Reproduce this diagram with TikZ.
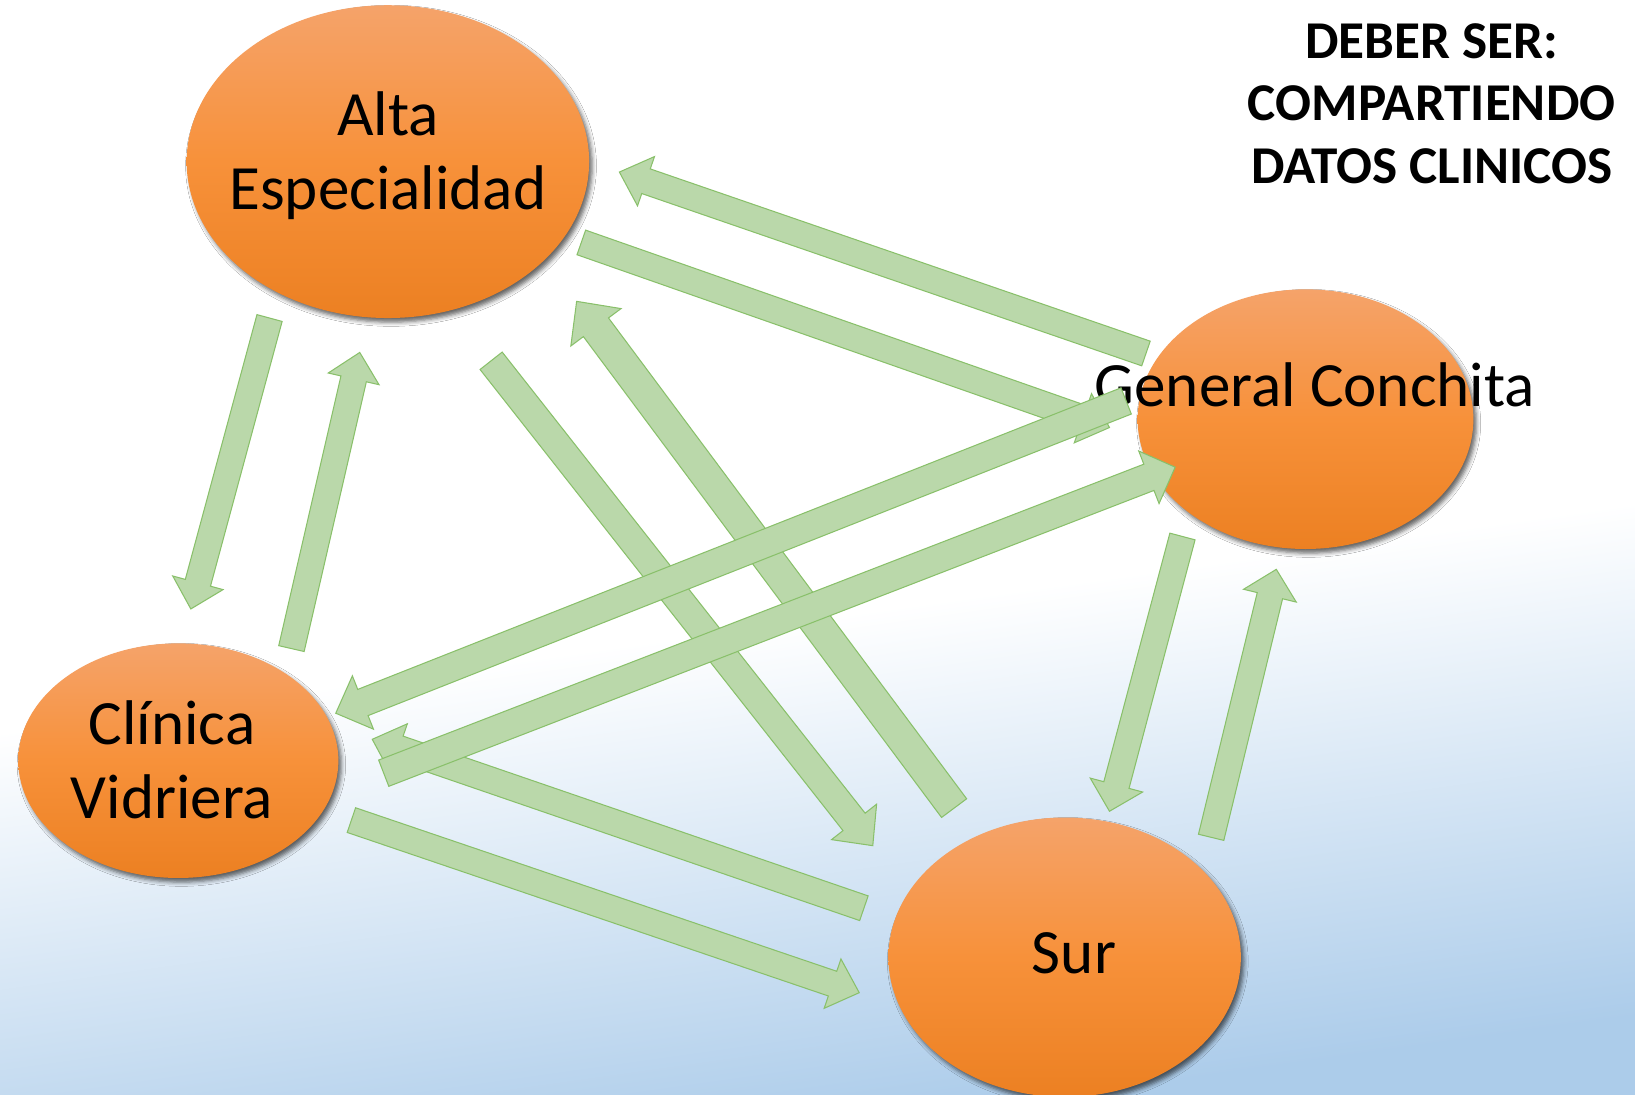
\documentclass[tikz,border=0pt]{standalone}
\usepackage{fontspec}
\setmainfont{Carlito}
\usetikzlibrary{calc,shapes.geometric,shadows.blur}

\definecolor{arrowfill}{RGB}{186,216,170}
\definecolor{arrowline}{RGB}{137,192,106}
\definecolor{orgtop}{RGB}{245,163,106}
\definecolor{orgmid}{RGB}{247,145,58}
\definecolor{orgbot}{RGB}{236,128,34}
\definecolor{bgblue}{RGB}{172,204,234}

\pgfdeclareverticalshading{bgshade}{100bp}{color(0bp)=(bgblue); color(25bp)=(bgblue); color(47bp)=(white); color(100bp)=(white)}

\tikzset{
  orb/.style={ellipse, draw=none, inner sep=0pt, top color=orgtop, bottom color=orgbot, middle color=orgmid,
    blur shadow={shadow xshift=3pt, shadow yshift=-4pt, shadow blur radius=4pt, shadow opacity=60}},
  lbl/.style={font=\fontsize{60.5}{71}\selectfont, align=center, inner sep=0pt, text=black},
  ttl/.style={font=\bfseries\fontsize{51}{60}\selectfont, align=center, inner sep=0pt, text=black},
  blockarrow/.style={fill=arrowfill, draw=arrowline, line width=1pt, line join=miter}
}

% #2 tail, #3 tip, #4 half shaft width, #5 half head width, #6 head length
\newcommand\blockarr[6][]{%
  \coordinate (hb) at ($(#3)!#6!(#2)$);
  \draw[blockarrow,#1] ($(#2)!#4!90:(#3)$) -- ($(hb)!#4!90:(#3)$) -- ($(hb)!#5!90:(#3)$) -- (#3)
     -- ($(hb)!#5!-90:(#3)$) -- ($(hb)!#4!-90:(#3)$) -- ($(#2)!#4!-90:(#3)$) -- cycle;
}

\begin{document}
\begin{tikzpicture}[x=1pt,y=-1pt]
\useasboundingbox (0,0) rectangle (1568,1049.2);
\clip (0,0) rectangle (1568,1049.2);
\shade[shading=bgshade, shading angle=8] (0,0) rectangle (1568,1049.2);

% ellipses
\node[orb, minimum width=386pt, minimum height=300pt] (alta) at (372,155) {};
\node[orb, minimum width=322pt, minimum height=249pt] (gen) at (1252,402) {};
\node[orb, minimum width=307pt, minimum height=225pt] (cli) at (171,729.5) {};
\node[orb, minimum width=338pt, minimum height=268pt] (sur) at (1021,918) {};

% labels (base anchor = baseline of last line)
\node[lbl, anchor=base] (altat) at (372,201) {Alta\\Especialidad};
\node[lbl, anchor=base] (gent) at (1261,390) {General Conchita};
\node[lbl, anchor=base] (clit) at (165,785) {Clínica\\Vidriera};
\node[lbl, anchor=base] (surt) at (1030,934) {Sur};
\node[ttl, anchor=base] (title) at (1373,176) {DEBER SER:\\COMPARTIENDO\\DATOS CLINICOS};

% arrow end points
\coordinate (t1) at (258.5,305);  \coordinate (h1) at (183,584);
\coordinate (t2) at (279.5,622);  \coordinate (h2) at (345,338);
\coordinate (t3) at (471,346);    \coordinate (h3) at (837,811);
\coordinate (t4) at (915,775);    \coordinate (h4) at (553,289);
\coordinate (t5) at (1099,339);   \coordinate (h5) at (594,165);
\coordinate (t6) at (557.5,232.5);\coordinate (h6) at (1064,410);
\coordinate (t7) at (1080,384.5); \coordinate (h7) at (322,684);
\coordinate (t8) at (368,741.5);  \coordinate (h8) at (1127,448);
\coordinate (t9) at (828.5,871);  \coordinate (h9) at (357,709);
\coordinate (t10) at (337,786.5); \coordinate (h10) at (824,952);
\coordinate (t11) at (1134,514.5);\coordinate (h11) at (1064,778);
\coordinate (t12) at (1161.5,803);\coordinate (h12) at (1224,546);

\blockarr{t1}{h1}{12.5pt}{25pt}{26pt}
\blockarr{t2}{h2}{12.5pt}{25pt}{26pt}
\blockarr{t3}{h3}{13.5pt}{27.5pt}{29pt}
\blockarr{t4}{h4}{15pt}{30pt}{31pt}
\blockarr{t5}{h5}{12.5pt}{25pt}{27pt}
\blockarr{t6}{h6}{12.5pt}{25pt}{27pt}
\blockarr{t9}{h9}{12.5pt}{25pt}{27pt}
\blockarr{t10}{h10}{12.5pt}{25pt}{27pt}
\blockarr{t11}{h11}{12.5pt}{26pt}{26pt}
\blockarr{t12}{h12}{12.5pt}{26pt}{26pt}
\blockarr{t7}{h7}{13.5pt}{27.5pt}{28pt}
\blockarr{t8}{h8}{13.5pt}{27pt}{27pt}
\end{tikzpicture}
\end{document}
